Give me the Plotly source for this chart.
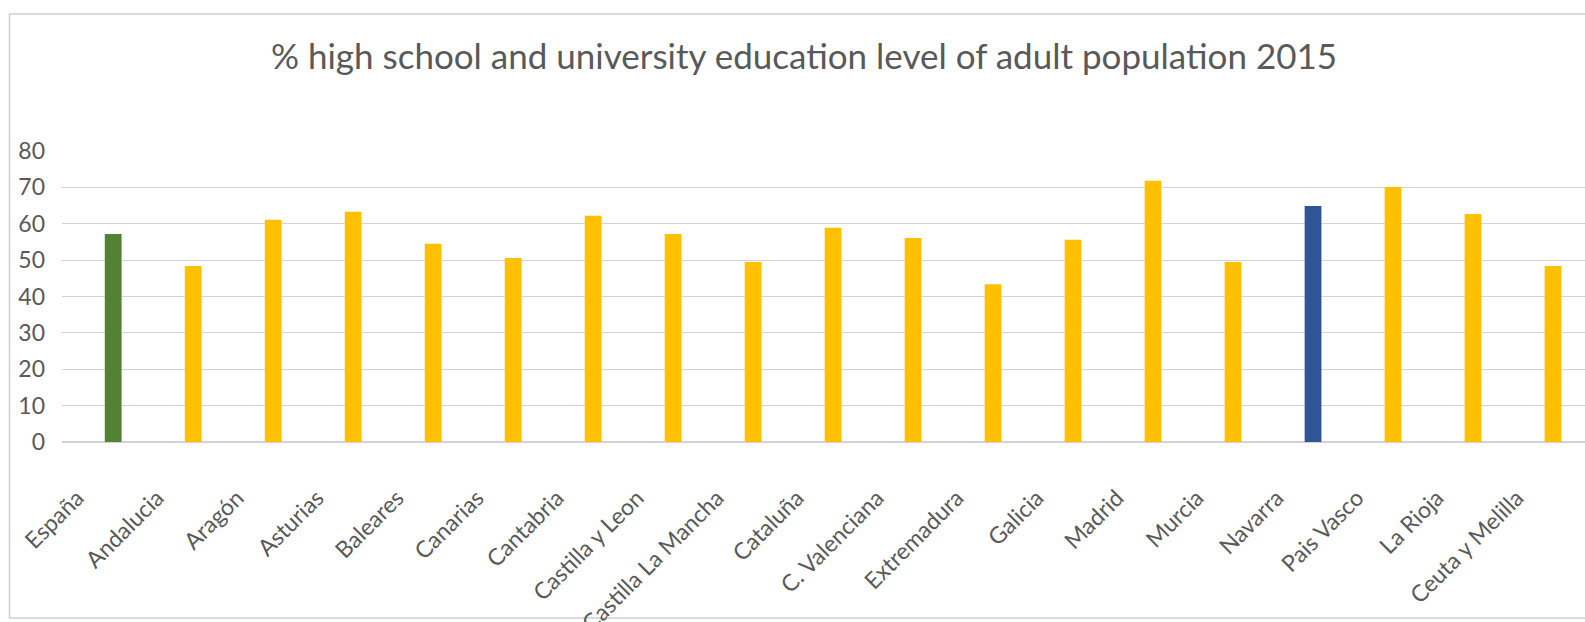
import plotly.graph_objects as go

categories = ["España", "Andalucia", "Aragón", "Asturias", "Baleares", "Canarias",
              "Cantabria", "Castilla y Leon", "Castilla La Mancha", "Cataluña",
              "C. Valenciana", "Extremadura", "Galicia", "Madrid", "Murcia",
              "Navarra", "Pais Vasco", "La Rioja", "Ceuta y Melilla"]
values = [57.2, 48.4, 61.1, 63.3, 54.5, 50.6, 62.2, 57.2, 49.5, 58.9,
          56.1, 43.4, 55.6, 71.8, 49.5, 64.9, 70.1, 62.7, 48.4]
bar_colors = ["#548235"] + ["#FFC000"] * 14 + ["#2F5597"] + ["#FFC000"] * 3
y_ticks = [0, 10, 20, 30, 40, 50, 60, 70, 80]
title_text = "% high school and university education level of adult population 2015"

W, H = 1585, 622
ml, mr, mt, mb = 62, 0, 151, 180

fig = go.Figure(go.Bar(x=categories, y=values, marker_color=bar_colors,
                       marker_line_width=0, hoverinfo="x+y"))

pw = W - ml - mr
ph = H - mt - mb
# chart border (outer frame), in paper coordinates
bx0 = (9.5 - ml) / pw
by0 = (H - mb - 618) / ph
by1 = (H - mb - 14) / ph

fig.update_layout(
    width=W, height=H,
    margin=dict(l=ml, r=mr, t=mt, b=mb, autoexpand=False),
    paper_bgcolor="white", plot_bgcolor="white",
    font=dict(family="Lato, Carlito, Calibri, sans-serif", color="#595959", size=23),
    title=dict(text=title_text, x=804 / W, xref="container", xanchor="center",
               y=1 - 57 / H, yanchor="middle",
               font=dict(size=35, color="#595959")),
    bargap=0.79,
    showlegend=False,
    xaxis=dict(type="category", range=[-0.64, 18.40], tickangle=-45,
               showgrid=False, showline=False, zeroline=False, ticks="",
               ticklabelshift=-36, ticklabelstandoff=37,
               tickfont=dict(size=23, color="#595959")),
    yaxis=dict(range=[0, 80], tickvals=y_ticks, showgrid=True,
               gridcolor="#D3D3D3", gridwidth=1.3, zeroline=True,
               zerolinecolor="#D3D3D3", zerolinewidth=1.5, showline=False,
               ticks="", ticklabelstandoff=16,
               tickfont=dict(size=23, color="#595959")),
    shapes=[dict(type="rect", xref="paper", yref="paper",
                 x0=bx0, x1=1.05, y0=by0, y1=by1,
                 line=dict(color="#D0D0D0", width=1.5), fillcolor="rgba(0,0,0,0)",
                 layer="below")],
)

fig.write_html("out.html",
               config={"displayModeBar": False},
               post_script="document.body.style.margin='0px';"
                           "document.body.style.overflow='hidden';")
